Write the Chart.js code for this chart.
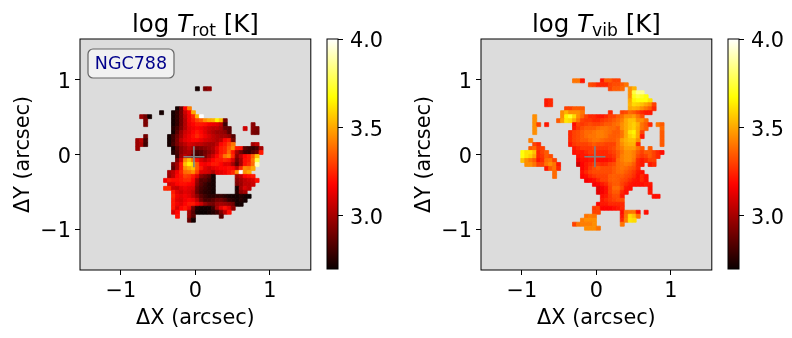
<!DOCTYPE html>
<html>
<head>
<meta charset="utf-8">
<title>NGC788 temperature maps</title>
<script src="https://cdn.jsdelivr.net/npm/chart.js@4"></script>
<style>
  html, body { margin:0; padding:0; background:#fff; }
  body { position:relative; width:792px; height:338px; overflow:hidden; }
  canvas { position:absolute; top:0; }
</style>
</head>
<body>
<canvas id="rotMap" width="323" height="338" style="left:0"></canvas>
<canvas id="rotBar" width="70" height="338" style="left:320px"></canvas>
<canvas id="vibMap" width="323" height="338" style="left:401px"></canvas>
<canvas id="vibBar" width="70" height="338" style="left:721px"></canvas>
<script>
'use strict';

const AXIS_LIMIT = 1.55;
const CELL = 3.1 / 58;            // arcsec per spaxel
const LOG_MIN = 2.7, LOG_MAX = 4.0;
const mapTicks = [-1, 0, 1];
const barTicks = [3.0, 3.5, 4.0];
const crossX = [-0.02], crossY = [-0.03];

// [row from top, first column right of x=0, log T in hundredths]
const rotCells = [
  [0,0,[272]], [0,2,[292,296]],
  [5,-5,[272,288,318,342]],
  [6,-6,[272,278,290,308,318,350]], [6,-9,[272]],
  [7,-14,[298,290,272]], [7,-6,[272,278,290,305,316,325,352,400]],
  [8,-13,[292]], [8,-6,[272,278,290,303,316,322,330,335,345,350,352,365,355,290]],
  [9,-13,[292]], [9,-6,[272,278,290,303,314,318,322,322,320,316,314,312,305,280]], [9,14,[295]],
  [10,-6,[275,282,292,303,312,315,318,316,312,308,305,305,300,288,285]], [10,12,[308]], [10,14,[295,292]],
  [11,-6,[272,285,298,308,312,318,322,318,312,306,302,298,298,295,285]], [11,14,[292,290]],
  [12,-13,[290]], [12,-7,[272,280,290,300,310,315,320,325,320,315,310,305,302,300,300,296,285]],
  [13,-15,[298,305,282]], [13,-7,[272,280,292,305,312,315,318,318,314,310,308,305,302,305,318,322,290]],
  [14,-15,[298,302,280]], [14,-7,[272,282,292,300,305,310,308,305,305,302,300,300,305,318,322,330,340]], [14,14,[300,305]],
  [15,-15,[298]], [15,-6,[272,285,295,300,305,300,290,292,295,298,302,312,322,325,335,345,322,320,285,280,278,282,300]],
  [16,-6,[275,282,295,300,302,295,282,285,290,295,300,310,322,325,338,322,300,290,280,278,285,290,322]],
  [17,-5,[280,298,305,300,288,280,285,292,300,308,318,325,340,345,325,295,305,318,322,335,355]],
  [18,-5,[292,310,345,355,340,320,310,305,310,318,322,322,325,322,310,290,300,320,322,340,375]],
  [19,-6,[290,300,322,355,365,360,335,318,315,318,322,322,318,312,312,300,285,300,320,325,338,390]],
  [20,-6,[285,300,322,345,350,355,335,322,312,308,312,315,318,318,320,318,305,325,345,342,350]],
  [21,-7,[300,305,315,325,338,340,345,330,312,310,308,302,310,312,315,320,325,345,400,345,350]],
  [22,-7,[298,305,318,322,330,328,322,312,295,290,285,272]], [22,10,[300,305,318,320,322]],
  [23,-8,[315,322,320,320,322,325,325,318,298,285,285,280,272]], [23,10,[295,300,305,308,310,320]],
  [24,-7,[310,312,318,320,320,318,315,295,285,280,275,272]], [24,10,[292,298,305,305,308]],
  [25,-8,[325,325,308,306,312,315,312,310,290,282,278,275,272]], [25,10,[272,300,310,305]],
  [26,-6,[322,312,308,312,310,305,288,280,276,275,272]], [26,10,[275,295,300]],
  [27,-6,[325,315,312,315,312,305,295,285,280,276,276,278,278,275,272,272,272,275,272,270]],
  [28,-6,[322,312,310,315,318,315,305,290,282,282,285,290,290,285,278,275,272,275,272]],
  [29,-6,[322,315,312,318,322,322,315,308,298,292,290,298,300,298,295,290,272,272]],
  [30,-6,[322,310,318,322,315,290,275,272,272,272,280,300,312,320,312,295]],
  [31,-6,[310,318]], [31,-2,[300,285,272,270,270,272,275,280,292,305,320]],
  [32,-5,[320]], [32,-2,[298,285]], [32,6,[285]],
  [33,-2,[288,272]]
];

const vibCells = [
  [-2,-6,[340,340,322]], [-2,1,[322,335,335,330,330]],
  [-1,-2,[332,330,325,325,325,330,332,332,335,340]],
  [0,3,[330,335,335,338]], [0,8,[345,352]],
  [1,8,[345,375,385,385]],
  [2,8,[345,370,375,372,368]],
  [3,-13,[322,325]], [3,8,[350,365,368,368,368,362]],
  [4,-13,[322,325]], [4,8,[352,360,358,355,350,345,330]],
  [5,-8,[330,330,335,335,335]], [5,8,[350,352,350,345,340,335,325]],
  [6,-9,[345,352,345,345,345,340]], [6,3,[325]], [6,6,[330,332,338,335,330,325,322,322]],
  [7,-16,[345]], [7,-9,[345,365,372,360,345,338,330,325,325,322,322,325,330,330,335,338,345,345,348,340,332]],
  [8,-16,[345]], [8,-10,[335,348,362,360,350,340,330,328,328,325,325,328,330,332,335,338,342,350,355,355,345,345,338]],
  [9,-16,[345,330]], [9,-13,[322]], [9,-6,[320,330,328,330,332,330,330,332,335,335,338,340,345,350,355,358,352,340,335,325]], [9,15,[340,335]],
  [10,-16,[345]], [10,-6,[322,328,332,335,335,335,338,340,340,338,338,335,345,350,355,358,350,340,335]], [10,16,[338]],
  [11,-16,[345]], [11,-7,[325,330,332,335,338,338,340,342,342,340,338,335,335,340,350,362,365,350,330]], [11,16,[335]],
  [12,-7,[325,330,332,335,338,340,340,342,342,340,336,335,336,340,350,358,362,350,322]], [12,16,[335]],
  [13,-17,[342]], [13,-7,[325,330,332,335,335,338,340,340,338,336,335,335,338,348,352,355,355,345]], [13,16,[335]],
  [14,-16,[330,325]], [14,-7,[322,328,330,330,330,332,335,332,332,330,330,330,338,345,350,352,352,325]], [14,16,[335]],
  [15,-17,[335,338,328,330]], [15,-6,[322,325,328,328,328,330,328,328,328,330,332,338,342,348,348,348,340,335]], [15,13,[335]],
  [16,-19,[368,362,362,355,325,330,335]], [16,-6,[320,322,322,325,328,328,325,325,325,328,330,335,340,345,345,342,335,330,335,335,330,325,320]],
  [17,-19,[368,362,358,350,325,328,335,332]], [17,-5,[320,322,322,325,325,325,325,325,325,328,335,342,345,345,342,332,328,330,335,330,325]],
  [18,-19,[355,345,340,335,322,326,338,340,330]], [18,-5,[316,320,320,322,322,320,320,320,322,325,338,342,345,345,340,326,322,325,330,330]],
  [19,-18,[345,345,340,330,330,340,345,340,322]], [19,-5,[308,318,322,325,328,328,325,326,330,332,338,340,342,340,335,325,322]], [19,13,[322,325]],
  [20,-13,[322,335,340,325]], [20,-4,[318,322,328,332,335,332,332,332,335,338,340,338,335,332,325]],
  [21,-11,[338]], [21,-4,[320,325,330,332,332,332,332,332,335,338,338,335,332,328,322,320]],
  [22,-11,[338]], [22,-4,[318,320,325,328,330,330,330,335,336,335,335,332,330,326,320,325,320]],
  [23,-3,[316,318,320,325,330,330,335,336,335,332,330,326,322,320,325,320]],
  [24,-1,[316,318,322,325,332,335,335,330,326,322,320,320,320,322,322]],
  [25,0,[312,316,320,330,338,338,332,322,320]], [25,13,[320]],
  [26,0,[312,316,320,330,335,335,325,320]], [26,13,[322]],
  [27,1,[320,322,328,332,332,322]], [27,14,[320,320]],
  [28,1,[322,325,328,330,332,332]],
  [29,0,[318,322,322,325,325,325,325]],
  [30,-1,[328,330,318,318,318,320,322,325]],
  [31,-1,[330,330]], [31,6,[320,338,340,340,320]], [31,12,[320]],
  [32,-3,[340,342,340]], [32,6,[322,340,360,355,340]],
  [33,-4,[342,345,345,345]], [33,6,[325,342,362,360]],
  [34,-6,[330,340,342,342,342,345]], [34,6,[340]],
  [35,-3,[345,345,345,340]]
];

// matplotlib "hot"
function hot(t) {
  const ramp = (a, b) => Math.max(0, Math.min(1, (t - a) / (b - a)));
  const r = 0.0416 + 0.9584 * ramp(0, 0.365079);
  const g = ramp(0.365079, 0.746032);
  const b = ramp(0.746032, 1);
  return `rgb(${Math.round(r*255)},${Math.round(g*255)},${Math.round(b*255)})`;
}
const logColor = v => hot((v - LOG_MIN) / (LOG_MAX - LOG_MIN));

function toPoints(cells) {
  return cells.flatMap(([row, col, vals]) => vals.map((v, i) => ({
    x: (col + i + 0.5) * CELL,
    y: (16.5 - row) * CELL,
    v: v / 100,
  })));
}

const fmtTick = v => (v < 0 ? '\u2212' : '') + Math.abs(v);
const FONT = '"DejaVu Sans"';
const TICK_SIZE = 20.8;

// ── frame, background, title, label box ──────────
const framePlugin = {
  id: 'frame',
  beforeDatasetsDraw(chart, args, opts) {
    if (!opts.fill) return;
    const a = chart.chartArea, c = chart.ctx;
    c.save();
    c.fillStyle = opts.fill;
    c.fillRect(a.left, a.top, a.width, a.height);
    c.restore();
  },
  afterDraw(chart, args, opts) {
    const a = chart.chartArea, c = chart.ctx;
    c.save();
    c.strokeStyle = '#000';
    c.lineWidth = 1;
    c.strokeRect(a.left, a.top, a.width, a.height);
    if (opts.sub) drawTitle(c, (a.left + a.right) / 2, 32, opts.sub);
    if (opts.label) drawLabel(c, a.left + 8, a.top + 10, opts.label);
    c.restore();
  }
};

function drawTitle(c, cx, y, sub) {
  const parts = [
    ['log ', `24.5px ${FONT}`, 0],
    ['T', `italic 24.5px ${FONT}`, 0],
    [sub, `17.2px ${FONT}`, 4],
    [' [K]', `24.5px ${FONT}`, 0],
  ];
  let w = 0;
  parts.forEach(p => { c.font = p[1]; w += c.measureText(p[0]).width; });
  let x = cx - w / 2;
  c.fillStyle = '#000';
  c.textAlign = 'left';
  c.textBaseline = 'alphabetic';
  parts.forEach(p => {
    c.font = p[1];
    c.fillText(p[0], x, y + p[2]);
    x += c.measureText(p[0]).width;
  });
}

function drawLabel(c, x, y, text) {
  c.beginPath();
  c.roundRect(x, y, 86, 29, 5);
  c.fillStyle = 'rgba(255,255,255,0.6)';
  c.fill();
  c.strokeStyle = '#666';
  c.lineWidth = 1.2;
  c.stroke();
  c.fillStyle = '#00008b';
  c.font = `17.5px ${FONT}`;
  c.textAlign = 'center';
  c.textBaseline = 'middle';
  c.fillText(text, x + 43, y + 15);
}

function mapAxis(title, fit, titlePad, labelOffset) {
  return {
    type: 'linear',
    min: -AXIS_LIMIT,
    max: AXIS_LIMIT,
    afterBuildTicks: s => { s.ticks = mapTicks.map(value => ({ value })); },
    afterFit: s => {
      fit(s);
      s.paddingLeft = s.paddingRight = s.paddingTop = s.paddingBottom = 0;
    },
    grid: { drawOnChartArea: false, drawTicks: true, tickLength: 5, tickColor: '#000', tickWidth: 1 },
    border: { display: false },
    ticks: {
      color: '#000', padding: 4, maxRotation: 0, autoSkip: false, labelOffset,
      font: { family: FONT, size: TICK_SIZE },
      callback: fmtTick,
    },
    title: { display: true, text: title, color: '#000', padding: { top: titlePad, bottom: titlePad }, font: { family: FONT, size: TICK_SIZE } },
  };
}

function makeMap(id, cells, sub, label) {
  const cellRadius = ctx => {
    const s = ctx.chart.scales.x;
    return Math.abs(s.getPixelForValue(CELL) - s.getPixelForValue(0)) / 2 * Math.SQRT2;
  };
  return new Chart(document.getElementById(id), {
    type: 'scatter',
    plugins: [framePlugin],
    data: {
      datasets: [
        {
          data: crossX.map((x, i) => ({ x, y: crossY[i] })),
          pointStyle: 'cross', pointRadius: 10.5,
          pointBorderColor: '#808080', pointBorderWidth: 1.7,
        },
        {
          data: toPoints(cells),
          pointStyle: 'rect',
          pointRadius: cellRadius,
          pointBackgroundColor: ctx => logColor(ctx.raw.v),
          pointBorderColor: ctx => logColor(ctx.raw.v),
          pointBorderWidth: 0.8,
        },
      ],
    },
    options: {
      responsive: false, animation: false, devicePixelRatio: 1,
      layout: { padding: { top: 39, right: 7, left: 0, bottom: 0 } },
      plugins: { legend: { display: false }, tooltip: { enabled: false }, frame: { fill: '#dcdcdc', sub, label } },
      scales: {
        x: mapAxis('\u0394X (arcsec)', s => { s.height = 68; }, 6.5, 0),
        y: mapAxis('\u0394Y (arcsec)', s => { s.width = 80; }, 11.5, 3),
      },
    },
  });
}

function makeBar(id) {
  const gradient = ctx => {
    const a = ctx.chart.chartArea;
    if (!a) return '#000';
    const g = ctx.chart.ctx.createLinearGradient(0, a.bottom, 0, a.top);
    for (let i = 0; i <= 40; i++) g.addColorStop(i / 40, hot(i / 40));
    return g;
  };
  return new Chart(document.getElementById(id), {
    type: 'bar',
    plugins: [framePlugin],
    data: {
      labels: [''],
      datasets: [{ data: [[LOG_MIN, LOG_MAX]], backgroundColor: gradient, barPercentage: 1, categoryPercentage: 1, borderWidth: 0, borderSkipped: false }],
    },
    options: {
      responsive: false, animation: false, devicePixelRatio: 1,
      layout: { padding: { top: 39, bottom: 69, left: 7, right: 0 } },
      plugins: { legend: { display: false }, tooltip: { enabled: false }, frame: {} },
      scales: {
        x: { display: false },
        y: {
          position: 'right', min: LOG_MIN, max: LOG_MAX,
          afterBuildTicks: s => { s.ticks = barTicks.map(value => ({ value })); },
          afterFit: s => { s.width = 52; s.paddingTop = s.paddingBottom = 0; },
          grid: { drawOnChartArea: false, drawTicks: true, tickLength: 5, tickColor: '#000', tickWidth: 1 },
          border: { display: false },
          ticks: { color: '#000', padding: 7, autoSkip: false, labelOffset: 3, font: { family: FONT, size: TICK_SIZE }, callback: v => v.toFixed(1) },
        },
      },
    },
  });
}

makeMap('rotMap', rotCells, 'rot', 'NGC788');
makeBar('rotBar');
makeMap('vibMap', vibCells, 'vib', null);
makeBar('vibBar');
</script>
</body>
</html>
